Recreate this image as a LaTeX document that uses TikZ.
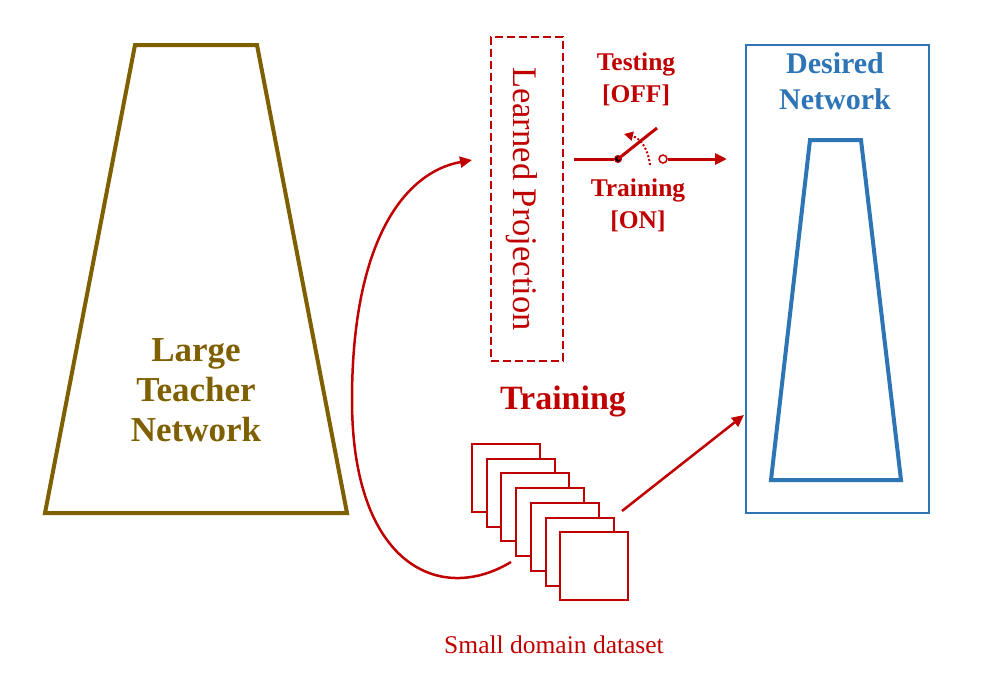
\documentclass[tikz,border=0pt]{standalone}
\usepackage{fontspec}
\setmainfont{Liberation Serif}
\usetikzlibrary{arrows.meta}
\definecolor{olive}{HTML}{7F6000}
\definecolor{dred}{HTML}{C00000}
\definecolor{dblue}{HTML}{2E75B6}
\begin{document}
\begin{tikzpicture}[x=1pt,y=-1pt,
  sq/.style={draw=dred,line width=2pt,fill=white,minimum size=68pt,inner sep=0pt},
  redtxt/.style={text=dred,font=\bfseries\fontsize{25.5}{32}\selectfont,align=center}]
\useasboundingbox (0,0) rectangle (1002,688);
% teacher
\draw[olive,line width=4pt,line join=miter] (135,45) -- (257,45) -- (347,513) -- (45,513) -- cycle;
\node[text=olive,font=\bfseries\fontsize{35}{40}\selectfont,align=center] (teach) at (196,390) {Large\\Teacher\\Network};
% desired
\node[draw=dblue,line width=1.6pt,minimum width=183pt,minimum height=468pt,inner sep=0pt] (des) at (837.5,279) {};
\node[text=dblue,font=\bfseries\fontsize{30}{36}\selectfont,align=center] (destxt) at (835,81) {Desired\\Network};
\draw[dblue,line width=4pt] (810,140) -- (861,140) -- (901,480) -- (771,480) -- cycle;
% learned projection
\node[draw=dred,dash pattern=on 8pt off 4pt,line width=1.3pt,minimum width=72pt,minimum height=324pt,inner sep=0pt] (lp) at (527,199) {};
\node[text=dred,rotate=-90,font=\fontsize{34.5}{38}\selectfont] (lptxt) at (522,199) {Learned Projection};
% switch
\coordinate (sw0) at (574,159);
\node[circle,fill=black,draw=dred,line width=1pt,inner sep=0pt,minimum size=7pt] (piv) at (618,159) {};
\coordinate (lev) at (657,128);
\node[circle,draw=dred,fill=white,line width=1.5pt,inner sep=0pt,minimum size=8pt] (cont) at (663,159) {};
\coordinate (swend) at (727,159);
\draw[dred,line width=3pt] (sw0) -- (piv);
\draw[dred,line width=3pt] (piv.center) -- (lev);
\draw[dred,line width=3pt,-{Triangle[length=12pt,width=11pt]}] (cont) -- (swend);
\draw[dred,line width=2pt,dotted,-{Triangle[length=9pt,width=9pt]}] (650,165) .. controls (648,148) and (640,138) .. (624,134);
\node[redtxt] (test) at (636,79) {Testing\\{}[OFF]};
\node[redtxt] (train) at (638,205) {Training\\{}[ON]};
% training label
\node[text=dred,font=\bfseries\fontsize{34}{38}\selectfont] (trbig) at (563,401) {Training};
% stack
\foreach \i in {0,...,6} {
  \node[sq] (s\i) at ({506+14.7*\i},{478+14.7*\i}) {};
}
% arrows
\coordinate (cstart) at (511,562);
\coordinate (cend) at (472,160);
\draw[dred,line width=2.5pt,-{Triangle[length=12pt,width=11pt]}] (cstart) .. controls (440,605) and (352,565) .. (352,400) .. controls (352,240) and (405,172) .. (cend);
\coordinate (astart) at (622,511);
\coordinate (aend) at (744,415);
\draw[dred,line width=2.5pt,-{Triangle[length=12pt,width=11pt]}] (astart) -- (aend);
\node[text=dred,font=\fontsize{25.5}{30}\selectfont] (sdd) at (554,645) {Small domain dataset};
\end{tikzpicture}
\end{document}
